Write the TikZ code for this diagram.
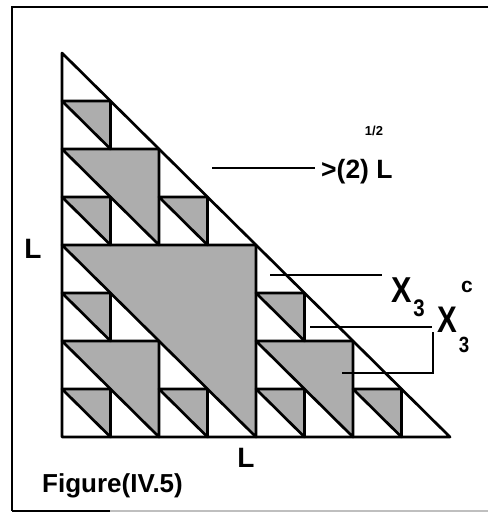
\documentclass[tikz,border=0pt]{standalone}
\usepackage{fontspec}
\setmainfont{Liberation Sans}
\begin{document}
\begin{tikzpicture}[x=1pt,y=-1pt,
  edge/.style={line width=2.7pt,line join=round,line cap=round},
  shadetri/.style={edge,fill=black!32},
  ptr/.style={line width=2.2pt},
  lbl/.style={inner sep=0pt,font=\bfseries\fontsize{27}{27}\selectfont}]
\useasboundingbox (0,0) rectangle (488,514);
% frame
\draw[line width=1.8pt] (488,7) -- (12,7) -- (12,511);
\draw[line width=1.2pt,black!25] (12,511) -- (488,511);
\draw[line width=1.4pt] (12,511) -- (110,511);
% fractal triangle
\begin{scope}[shift={(62,437)},x=48.5pt,y=48pt]
  \foreach \a/\b/\h in {0/0/4, 0/0/2, 4/0/2, 0/4/2, 0/0/1, 2/0/1, 0/2/1, 4/0/1, 6/0/1, 4/2/1, 0/4/1, 2/4/1, 0/6/1}
    \filldraw[shadetri] (\a,\b+\h) -- (\a+\h,\b+\h) -- (\a+\h,\b) -- cycle;
  \coordinate (A) at (0,0);
  \coordinate (B) at (8,0);
  \coordinate (C) at (0,8);
  \draw[edge] (A) -- (B) -- (C) -- cycle;
\end{scope}
% labels
\node[lbl,font=\bfseries\fontsize{28}{28}\selectfont] (Lleft) at (33,249) {L};
\node[lbl,font=\bfseries\fontsize{28}{28}\selectfont] (Lbot) at (246,458) {L};
\node[lbl,anchor=base west,font=\bfseries\fontsize{26}{26}\selectfont] (fig) at (42,492) {Figure(IV.5)};
% >(2)^{1/2} L
\coordinate (p1) at (212,168);
\node[lbl,anchor=base west,font=\bfseries\fontsize{26.5}{26.5}\selectfont] (t1) at (321,178) {>(2) L};
\node[lbl,font=\bfseries\fontsize{13}{13}\selectfont] (t1s) at (374,131) {1/2};
\draw[ptr] (p1) -- (315,168);
% X_3
\coordinate (p2) at (270,275);
\node[lbl,font=\bfseries\fontsize{36}{36}\selectfont] (t2) at (402,290) {\scalebox{0.85}[1]{X}};
\node[lbl,font=\bfseries\fontsize{24}{24}\selectfont] (t2sub) at (419,308) {\scalebox{0.85}[1]{3}};
\draw[ptr] (p2) -- (382,275);
% X_3^c
\coordinate (b1) at (310,327);
\coordinate (b2) at (342,373);
\coordinate (bc1) at (433,332);
\coordinate (bc2) at (433,373);
\draw[ptr] (b1) -- (432,327);
\draw[ptr] (bc1) -- (bc2) -- (b2);
\node[lbl,font=\bfseries\fontsize{37}{37}\selectfont] (t3) at (447,320) {\scalebox{0.8}[1]{X}};
\node[lbl,font=\bfseries\fontsize{22}{22}\selectfont] (t3sub) at (464,345) {\scalebox{0.85}[1]{3}};
\node[lbl,font=\bfseries\fontsize{21}{21}\selectfont] (t3sup) at (467,287) {c};
\end{tikzpicture}
\end{document}
